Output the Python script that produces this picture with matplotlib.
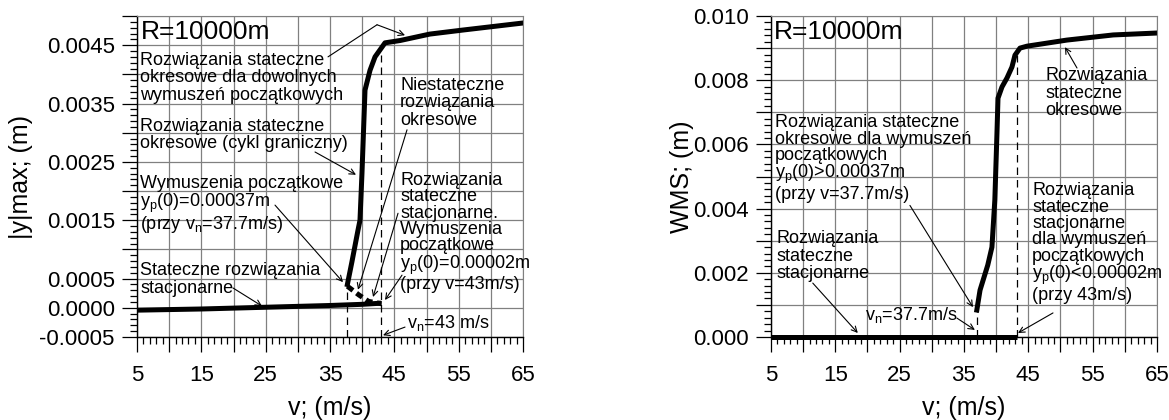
import matplotlib
matplotlib.use('Agg')
import matplotlib.pyplot as plt
from matplotlib.ticker import MultipleLocator, FuncFormatter

plt.rcParams.update({
    'font.family': 'Liberation Sans',
    'mathtext.fontset': 'custom',
    'mathtext.rm': 'Liberation Sans',
    'mathtext.it': 'Liberation Sans:italic',
})

# left panel: |y|max vs v
v_stat = [5, 15, 25, 35, 40, 43]
y_stat = [-0.00004, -0.00002, 0.00001, 0.00004, 0.00006, 0.00008]
v_per = [37.7, 38.4, 39.35, 39.66, 39.97, 40.44, 41.22, 42.0, 43.55, 45.9, 50.5, 55.7, 65.0]
y_per = [0.00040, 0.000785, 0.00133, 0.0015, 0.00231, 0.00373, 0.00407, 0.0043,
         0.00454, 0.00458, 0.00469, 0.00476, 0.00488]
v_unst = [37.7, 39.5, 41.0, 43.0]
y_unst = [0.00037, 0.00022, 0.00011, 0.00007]
v_crit_l = [37.7, 43.0]
ytop_crit_l = [0.00037, 0.00433]

# right panel: WMS vs v
v_zero = [5, 43.2]
wms_zero = [0.0, 0.0]
v_wms = [37.0, 37.5, 38.7, 39.35, 39.8, 40.13, 40.29, 40.91, 41.69, 42.46, 42.93,
         43.71, 44.8, 51.0, 58.2, 65.0]
wms = [0.00084, 0.00146, 0.00224, 0.0028, 0.00427, 0.00635, 0.00744, 0.00779,
       0.00807, 0.00841, 0.00878, 0.0090, 0.00906, 0.00925, 0.00941, 0.00947]
v_crit_r = [37.0, 43.2]
ytop_crit_r = [0.00084, 0.0088]

left_labels = [-5, 0, 5, 15, 25, 35, 45]  # in 1e-4 m

fig = plt.figure(figsize=(11.69, 4.2), dpi=100)
axL = fig.add_axes([0.1172, 0.1976, 0.3302, 0.7643])
axR = fig.add_axes([0.6595, 0.1976, 0.3302, 0.7643])

TXT = 13
ARW = dict(arrowstyle='->', color='black', lw=0.8, shrinkA=0, shrinkB=0)
LIN = dict(arrowstyle='-', color='black', lw=0.8, shrinkA=0, shrinkB=0)


def style(ax, ymin, ymax, ymaj, ymin_step, yfmt):
    ax.set_xlim(5, 65)
    ax.set_ylim(ymin, ymax)
    ax.xaxis.set_major_locator(MultipleLocator(5))
    ax.xaxis.set_minor_locator(MultipleLocator(1))
    ax.yaxis.set_major_locator(MultipleLocator(ymaj))
    ax.yaxis.set_minor_locator(MultipleLocator(ymin_step))
    ax.xaxis.set_major_formatter(FuncFormatter(
        lambda v, p: f'{v:.0f}' if round(v) % 10 == 5 else ''))
    ax.yaxis.set_major_formatter(FuncFormatter(yfmt))
    ax.tick_params(which='major', direction='out', length=11, width=0.9,
                   labelsize=16, pad=5)
    ax.tick_params(axis='x', which='major', pad=9)
    ax.tick_params(which='minor', direction='out', length=5, width=0.9)
    ax.grid(True, which='major', color='#808080', lw=0.9)
    ax.set_axisbelow(True)
    for s in ('top', 'right'):
        ax.spines[s].set_color('#808080')
    for s in ('left', 'bottom'):
        ax.spines[s].set_linewidth(1.0)
    ax.set_xlabel('v; (m/s)', fontsize=18, labelpad=7)


def fmt_left(y, p):
    k = round(y * 1e4)
    if k in left_labels:
        return f'{abs(y):.4f}' if k == 0 else f'{y:.4f}'
    return ''


def fmt_right(y, p):
    k = round(y * 1e3)
    return f'{abs(y):.3f}' if k % 2 == 0 else ''


# ---- left
style(axL, -0.0005, 0.005, 0.0005, 0.0001, fmt_left)
axL.set_ylabel('|y|max; (m)', fontsize=18)
axL.yaxis.set_label_coords(-0.27, 0.5)
axL.vlines(v_crit_l, -0.0005, ytop_crit_l, colors='black', lw=0.9,
           linestyles=(0, (6, 4)))
axL.plot(v_stat, y_stat, color='black', lw=3.6, solid_capstyle='butt')
axL.plot(v_per, y_per, color='black', lw=3.6, solid_joinstyle='round')
axL.plot(v_unst, y_unst, color='black', lw=3.6, linestyle=(0, (1.4, 0.9)))

axL.text(5.6, 0.00473, 'R=10000m', fontsize=19, va='center')
axL.text(5.5, 0.00394, 'Rozwiązania stateczne\nokresowe dla dowolnych\nwymuszeń początkowych',
         fontsize=TXT, va='center', linespacing=1.05)
axL.text(5.5, 0.00296, 'Rozwiązania stateczne\nokresowe (cykl graniczny)',
         fontsize=TXT, va='center', linespacing=1.05)
axL.text(5.5, 0.00176, 'Wymuszenia początkowe\ny$_\\mathregular{p}$(0)=0.00037m\n'
         '(przy v$_\\mathregular{n}$=37.7m/s)', fontsize=TXT, va='center', linespacing=0.95)
axL.text(5.5, 0.000485, 'Stateczne rozwiązania\nstacjonarne',
         fontsize=TXT, va='center', linespacing=1.05)
axL.text(45.9, 0.00351, 'Niestateczne\nrozwiązania\nokresowe',
         fontsize=TXT, va='center', linespacing=1.05)
axL.text(45.9, 0.00129, 'Rozwiązania\nstateczne\nstacjonarne.\nWymuszenia\npoczątkowe\n'
         'y$_\\mathregular{p}$(0)=0.00002m\n(przy v=43m/s)',
         fontsize=TXT, va='center', linespacing=0.95)
axL.text(47.0, -0.00026, 'v$_\\mathregular{n}$=43 m/s', fontsize=TXT, va='center')

axL.annotate('', xy=(42.31, 0.00485), xytext=(34.69, 0.0043), arrowprops=LIN)
axL.annotate('', xy=(46.66, 0.00467), xytext=(42.31, 0.00485), arrowprops=ARW)
axL.annotate('', xy=(39.04, 0.00228), xytext=(32.67, 0.00267), arrowprops=ARW)
axL.annotate('', xy=(37.02, 0.00044), xytext=(26.45, 0.00176), arrowprops=ARW)
axL.annotate('', xy=(39.35, 0.00031), xytext=(46.97, 0.00305), arrowprops=ARW)
axL.annotate('', xy=(41.69, 0.000185), xytext=(45.57, 0.00162), arrowprops=ARW)
axL.annotate('', xy=(43.55, 0.000134), xytext=(46.19, 0.00056), arrowprops=ARW)
axL.annotate('', xy=(24.43, 0.00003), xytext=(19.92, 0.00034), arrowprops=ARW)
axL.annotate('', xy=(43.24, -0.00047), xytext=(46.66, -0.00033), arrowprops=ARW)

# ---- right
style(axR, 0.0, 0.010, 0.001, 0.0002, fmt_right)
axR.set_ylabel('WMS; (m)', fontsize=18)
axR.yaxis.set_label_coords(-0.20, 0.5)
axR.vlines(v_crit_r, 0.0, ytop_crit_r, colors='black', lw=0.9,
           linestyles=(0, (6, 4)))
axR.plot(v_zero, wms_zero, color='black', lw=3.6, solid_capstyle='butt', clip_on=False)
axR.plot(v_wms, wms, color='black', lw=3.6, solid_joinstyle='round')

axR.text(5.5, 0.0095, 'R=10000m', fontsize=19, va='center')
axR.text(5.6, 0.00556, 'Rozwiązania stateczne\nokresowe dla wymuszeń\npoczątkowych\n'
         'y$_\\mathregular{p}$(0)>0.00037m\n(przy v=37.7m/s)',
         fontsize=TXT, va='center', linespacing=0.95)
axR.text(5.9, 0.00252, 'Rozwiązania\nstateczne\nstacjonarne',
         fontsize=TXT, va='center', linespacing=1.05)
axR.text(19.6, 0.00069, 'v$_\\mathregular{n}$=37.7m/s', fontsize=TXT, va='center')
axR.text(47.6, 0.0076, 'Rozwiązania\nstateczne\nokresowe',
         fontsize=TXT, va='center', linespacing=1.05)
axR.text(45.6, 0.00293, 'Rozwiązania\nstateczne\nstacjonarne\ndla wymuszeń\npoczątkowych\n'
         'y$_\\mathregular{p}$(0)<0.00002m\n(przy 43m/s)',
         fontsize=TXT, va='center', linespacing=0.95)

axR.annotate('', xy=(36.4, 0.00093), xytext=(26.6, 0.0041), arrowprops=ARW)
axR.annotate('', xy=(18.5, 0.000125), xytext=(11.5, 0.00168), arrowprops=ARW)
axR.annotate('', xy=(36.7, 0.00022), xytext=(33.9, 0.00059), arrowprops=ARW)
axR.annotate('', xy=(50.7, 0.00903), xytext=(52.57, 0.00838), arrowprops=ARW)
axR.annotate('', xy=(43.4, 0.000125), xytext=(48.84, 0.00075), arrowprops=ARW)

fig.savefig('out.png', dpi=100)
